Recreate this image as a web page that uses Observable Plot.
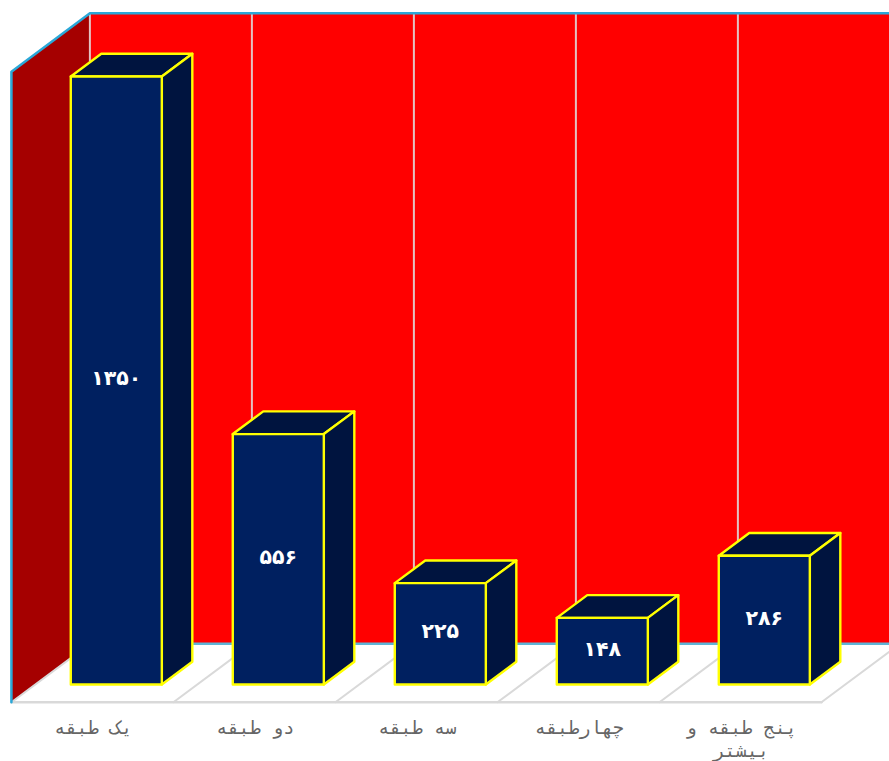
<!DOCTYPE html>
<html lang="fa">
<head>
<meta charset="utf-8">
<script src="https://cdn.jsdelivr.net/npm/d3@7"></script>
<script src="https://cdn.jsdelivr.net/npm/@observablehq/plot@0.6"></script>
<style>
html,body{margin:0;padding:0;background:#fff;overflow:hidden}
svg{display:block;overflow:hidden}
</style>
</head>
<body>
<div id="chart"></div>
<script>
const categories = ["یک طبقه", "دو طبقه", "سه طبقه", "چهارطبقه", "پنج طبقه و\nبیشتر"];
const values = [1350, 556, 225, 148, 286];
const valueLabels = ["۱۳۵۰", "۵۵۶", "۲۲۵", "۱۴۸", "۲۸۶"];
const axisMax = 1400;

// oblique projection: depth 1 = bar depth
const halfBar = 0.281, depthX = 30.5 / 162, depthY = 50.4;
const floorFront = -0.783, floorBack = 1.79;
const P = (c, v, d = 0) => ({x: c + d * depthX, y: v + d * depthY});
const poly = (id, pts) => [...pts, pts[0]].map(p => ({...p, id}));
const n = categories.length;
const lastEdge = n - 0.5 + 1;

const backWall = poly("b", [P(-0.5, 0, floorBack), P(lastEdge, 0, floorBack), P(lastEdge, axisMax, floorBack), P(-0.5, axisMax, floorBack)]);
const sideWall = poly("s", [P(-0.5, 0, floorFront), P(-0.5, 0, floorBack), P(-0.5, axisMax, floorBack), P(-0.5, axisMax, floorFront)]);
const floor = poly("f", [P(-0.5, 0, floorFront), P(lastEdge, 0, floorFront), P(lastEdge, 0, floorBack), P(-0.5, 0, floorBack)]);

const edges = d3.range(0, n + 1).map(i => i - 0.5);
const wallGrid = edges.flatMap((e, i) => [{...P(e, 0, floorBack), id: i}, {...P(e, axisMax, floorBack), id: i}]);
const floorGrid = edges.flatMap((e, i) => [{...P(e, 0, floorFront), id: i}, {...P(e, 0, floorBack), id: i}]);
const floorFrontEdge = [P(-0.5, 0, floorFront), P(n - 0.5, 0, floorFront)];
const blueEdge = [P(-0.5, 0, floorFront), P(-0.5, axisMax, floorFront), P(-0.5, axisMax, floorBack), P(lastEdge, axisMax, floorBack)];
const blueBack = [P(-0.5, 0, floorBack), P(lastEdge, 0, floorBack)];

const face = (data, fill) => Plot.line(data, {x: "x", y: "y", z: "id", fill, stroke: "#ffff00", strokeWidth: 2.4, strokeLinejoin: "round"});
const barMarks = values.flatMap((v, i) => {
  const l = i - halfBar, r = i + halfBar;
  return [
    face(poly(i, [P(l, v), P(r, v), P(r, v, 1), P(l, v, 1)]), "#00143f"),
    face(poly(i, [P(r, 0), P(r, 0, 1), P(r, v, 1), P(r, v)]), "#00143f"),
    face(poly(i, [P(l, 0), P(r, 0), P(r, v), P(l, v)]), "#002060")
  ];
});

const plot = Plot.plot({
  width: 889,
  height: 761,
  marginTop: 0, marginRight: 0, marginLeft: 0, marginBottom: 57,
  style: {background: "#fff", overflow: "hidden"},
  x: {type: "linear", domain: [-115.8 / 162, (889 - 115.8) / 162], axis: null},
  y: {type: "linear", domain: [-20 / 0.4504, 684 / 0.4504], axis: null},
  marks: [
    Plot.line(backWall, {x: "x", y: "y", z: "id", fill: "#ff0000", stroke: "none"}),
    Plot.line(sideWall, {x: "x", y: "y", z: "id", fill: "#a50000", stroke: "none"}),
    Plot.line(floor, {x: "x", y: "y", z: "id", fill: "#ffffff", stroke: "none"}),
    Plot.line(wallGrid, {x: "x", y: "y", z: "id", stroke: "#e3c3c3", strokeWidth: 2}),
    Plot.line(floorGrid, {x: "x", y: "y", z: "id", stroke: "#d9d9d9", strokeWidth: 2}),
    Plot.line(floorFrontEdge, {x: "x", y: "y", stroke: "#d9d9d9", strokeWidth: 2.5}),
    Plot.line(blueBack, {x: "x", y: "y", stroke: "#5fb4d6", strokeWidth: 2.5}),
    Plot.line(blueEdge, {x: "x", y: "y", stroke: "#2aa8d8", strokeWidth: 2.5}),
    ...barMarks,
    Plot.text(values, {
      x: (d, i) => i, y: d => d / 2, dy: -2,
      text: (d, i) => valueLabels[i],
      fill: "#fff", fontSize: 20.5, fontWeight: "bold", fontFamily: "DejaVu Sans"
    }),
    Plot.axisX({
      ticks: d3.range(n), tickFormat: i => categories[i], tickSize: 0, tickPadding: 13.5,
      anchor: "bottom", dx: -23, fontSize: 18.5, lineHeight: 1.22,
      fill: "#666666", fontFamily: "DejaVu Sans Mono", label: null
    })
  ]
});
document.getElementById("chart").append(plot);
</script>
</body>
</html>
